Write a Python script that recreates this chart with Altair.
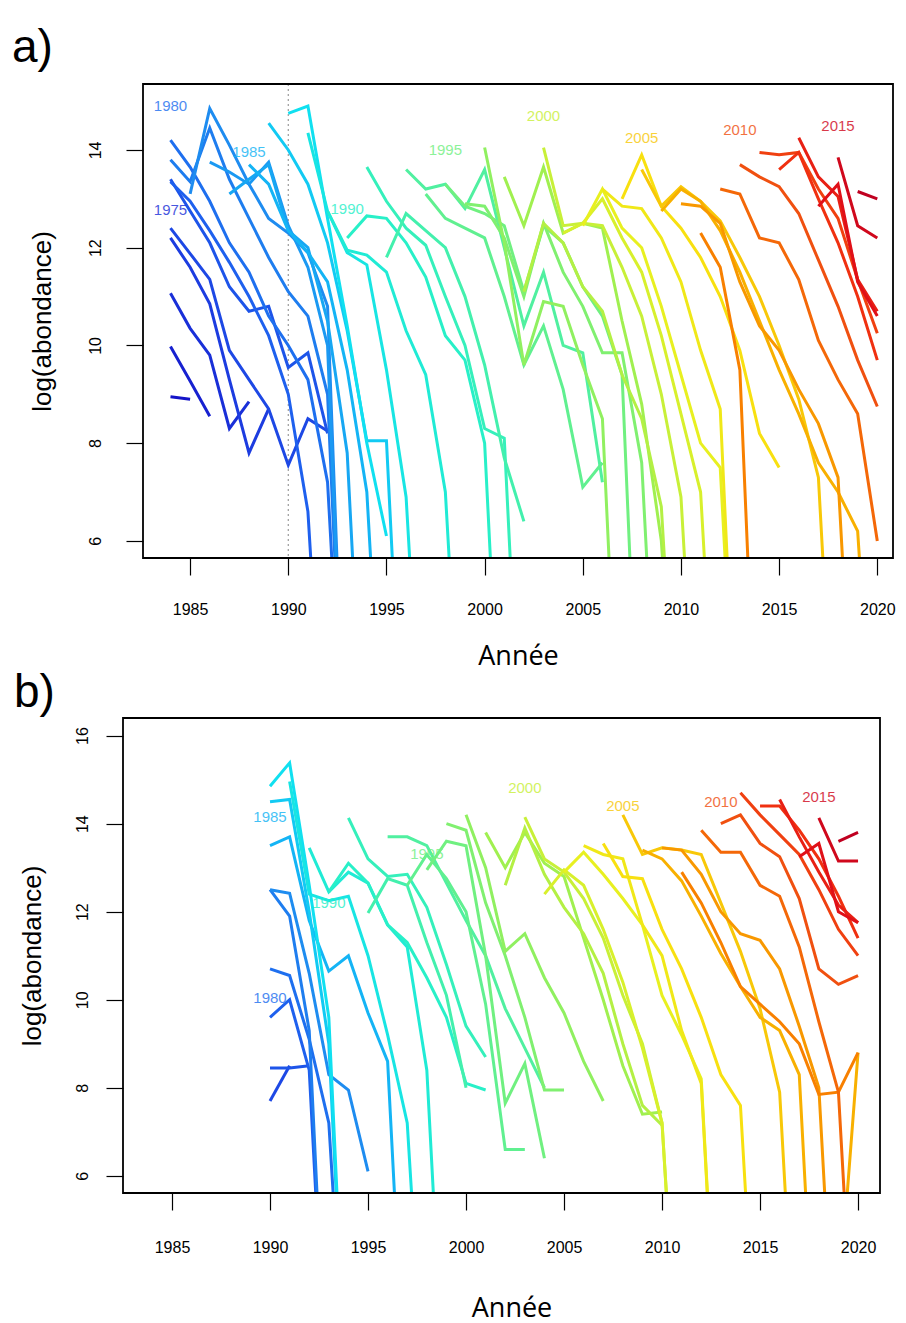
import altair as alt
import pandas as pd

# ---------------- Panel a : cohort catch curves ----------------
A_COHORT = [1973, 1974, 1975, 1976, 1977, 1978, 1979, 1980, 1981, 1982, 1983, 1984,
            1985, 1986, 1987, 1988, 1989, 1990, 1991, 1992, 1993, 1994, 1995, 1996,
            1997, 1998, 1999, 2000, 2001, 2002, 2003, 2004, 2005, 2006, 2007, 2008,
            2009, 2010, 2011, 2012, 2013, 2014, 2015, 2016]
A_START = [1984, 1984, 1984, 1984, 1984, 1984, 1984, 1984, 1984, 1985, 1986, 1987,
           1988, 1989, 1990, 1991, 1992, 1993, 1994, 1995, 1996, 1997, 1998, 1999,
           2000, 2001, 2002, 2003, 2004, 2005, 2006, 2007, 2008, 2009, 2010, 2011,
           2012, 2013, 2014, 2015, 2016, 2017, 2018, 2019]
A_VALUES = [
    [8.95, 8.9],
    [9.98, 9.27, 8.55],
    [11.07, 10.35, 9.8, 8.3, 8.85],
    [12.2, 11.6, 10.85, 9.3, 7.8, 8.7],
    [12.4, 11.88, 11.35, 9.9, 9.3, 8.7, 7.55, 8.5, 8.25],
    [13.4, 12.75, 12.1, 11.2, 10.7, 10.8, 9.55, 9.85, 8.2],
    [13.35, 12.95, 12.35, 11.7, 11.0, 10.2, 9.0, 6.6, 0.0],
    [14.2, 13.65, 12.95, 12.1, 11.5, 10.6, 10.0, 9.3, 7.2, 0.0],
    [13.8, 13.35, 14.45, 13.4, 12.6, 11.8, 11.1, 10.6, 9.0, 0.0],
    [13.1, 14.85, 14.1, 13.3, 12.6, 12.3, 11.9, 10.8, 0.0],
    [13.75, 13.55, 13.3, 13.75, 12.45, 11.6, 10.0, 0.0],
    [13.1, 13.4, 13.7, 12.35, 12.0, 10.5, 7.8, 0.0],
    [13.7, 13.3, 12.35, 11.9, 11.3, 9.5, 7.0, 0.0],
    [14.55, 14.0, 13.3, 12.1, 10.3, 8.05, 8.05, 0.0],
    [14.75, 14.9, 12.6, 10.4, 8.0, 6.1],
    [14.35, 12.75, 11.9, 11.65, 9.5, 6.9, 0.0],
    [12.75, 11.95, 11.85, 11.5, 10.3, 9.4, 7.0, 0.0],
    [12.2, 12.65, 12.6, 12.1, 11.4, 10.2, 9.7, 8.0, 0.0],
    [13.65, 12.95, 12.4, 12.05, 11.0, 10.0, 8.3, 8.1, 0.0],
    [11.8, 12.7, 12.35, 12.0, 11.0, 9.6, 7.7, 6.4],
    [13.6, 13.2, 13.3, 12.8, 13.6, 12.0, 10.4, 11.5, 10.0, 9.85, 7.2],
    [13.1, 12.6, 12.4, 12.2, 11.0, 9.6, 10.4, 9.1, 7.1, 7.6],
    [13.3, 12.85, 12.7, 12.45, 11.1, 12.45, 12.1, 11.2, 10.6, 9.4, 0.0],
    [12.9, 12.85, 12.2, 11.0, 12.5, 11.5, 10.8, 9.85, 9.85, 7.6, 0.0],
    [14.05, 12.1, 9.6, 10.9, 10.8, 9.6, 8.5, 0.0],
    [13.45, 12.45, 13.65, 12.3, 12.5, 12.4, 10.5, 8.8, 6.0, 0.0],
    [11.1, 12.5, 12.1, 11.2, 10.7, 9.4, 8.5, 6.7, 0.0],
    [14.05, 12.45, 12.5, 12.45, 11.6, 10.6, 9.0, 6.9, 0.0],
    [12.3, 12.5, 13.0, 12.2, 11.5, 10.2, 8.6, 7.0, 0.0],
    [12.45, 13.2, 12.4, 12.0, 10.8, 9.4, 8.0, 7.5, 0.0],
    [13.2, 12.85, 12.8, 12.2, 11.3, 9.9, 8.7, 0.0],
    [13.0, 13.9, 12.85, 12.4, 11.8, 11.0, 9.9, 8.2, 7.5],
    [13.6, 12.85, 13.25, 12.95, 12.55, 11.8, 11.0, 10.0, 8.9, 7.3, 0.0],
    [12.75, 13.2, 12.95, 12.35, 11.5, 10.5, 9.5, 8.6, 7.6, 7.0, 6.2, 0.0],
    [12.9, 12.85, 12.5, 11.3, 10.4, 9.9, 9.1, 8.4, 7.3, 0.0],
    [12.3, 11.6, 9.5, 0.0],
    [13.2, 13.1, 12.2, 12.1, 11.35, 10.1, 9.3, 8.6, 6.0],
    [13.7, 13.45, 13.25, 12.7, 11.75, 10.8, 9.7, 8.75],
    [13.95, 13.9, 13.95, 13.2, 12.6, 11.35, 10.25],
    [13.6, 13.95, 13.0, 12.1, 11.0, 9.7],
    [14.25, 13.45, 13.05, 11.35, 10.7],
    [12.85, 13.3, 11.3, 10.6],
    [13.85, 12.45, 12.2],
    [13.15, 13.0],
]
A_LABEL_TEXT = ["1975", "1980", "1985", "1990", "1995", "2000", "2005", "2010", "2015"]
A_LABEL_COHORT = [1975, 1980, 1985, 1990, 1995, 2000, 2005, 2010, 2015]
A_LABEL_X = [1984.0, 1984.0, 1988.0, 1993.0, 1998.0, 2003.0, 2008.0, 2013.0, 2018.0]
A_LABEL_Y = [12.77, 14.9, 13.96, 12.8, 14.0, 14.7, 14.25, 14.4, 14.5]

# ---------------- Panel b ----------------
B_COHORT = [1977, 1978, 1979, 1980, 1981, 1982, 1985, 1986, 1987, 1988, 1989, 1990,
            1991, 1992, 1993, 1994, 1995, 1996, 1997, 1998, 1999, 2000, 2001, 2002,
            2003, 2004, 2005, 2006, 2007, 2008, 2009, 2010, 2011, 2012, 2013, 2014,
            2015, 2016]
B_START = [1990, 1990, 1990, 1990, 1990, 1990, 1990, 1990, 1990, 1991, 1992, 1993,
           1994, 1995, 1996, 1997, 1998, 1999, 2000, 2001, 2002, 2003, 2004, 2005,
           2006, 2007, 2008, 2009, 2010, 2011, 2012, 2013, 2014, 2015, 2016, 2017,
           2018, 2019]
B_VALUES = [
    [7.7, 8.5],
    [8.45, 8.45, 8.5],
    [9.6, 10.0, 8.4, 0.0],
    [10.7, 10.55, 9.1, 7.2, 0.0],
    [12.5, 11.9, 9.3, 0.0],
    [12.5, 12.42, 10.6, 8.3, 7.95, 6.1],
    [13.5, 13.7, 11.8, 10.65, 11.0, 9.7, 8.6, 0.0],
    [14.5, 14.55, 12.0, 9.0, 0.0],
    [14.85, 15.38, 12.6, 9.6, 0.0],
    [14.96, 12.4, 12.25, 12.35, 11.0, 9.2, 7.2, 0.0],
    [13.45, 12.45, 12.9, 12.65, 11.7, 11.2, 8.4, 0.0],
    [12.45, 13.1, 12.65, 11.7, 11.3, 10.5, 9.6, 8.1, 7.95],
    [14.13, 13.2, 12.8, 12.85, 12.1, 10.8, 9.4, 8.7],
    [11.97, 12.75, 12.6, 11.3, 10.1, 8.0],
    [13.7, 13.7, 13.5, 12.65, 11.8, 11.0, 9.8, 8.9, 8.0],
    [12.6, 13.3, 12.75, 12.0, 9.9, 6.6, 6.6],
    [12.95, 13.6, 13.5, 11.0, 7.65, 8.55, 6.4],
    [14.0, 13.85, 12.2, 11.0, 9.6, 7.95, 7.95],
    [14.2, 13.0, 11.1, 11.5, 10.5, 9.7, 8.6, 7.7],
    [13.8, 13.0, 13.8, 13.1, 12.8, 11.4, 10.0, 8.5, 7.4, 7.45],
    [12.6, 13.9, 12.85, 12.1, 11.5, 10.6, 9.0, 7.6, 7.15],
    [14.15, 13.2, 12.9, 12.3, 11.4, 10.1, 9.0, 7.2, 0.0],
    [12.4, 12.95, 12.6, 11.6, 10.4, 8.9, 7.2, 0.0],
    [12.9, 13.35, 12.85, 12.3, 11.7, 10.1, 9.2, 8.2, 0.0],
    [13.5, 13.3, 13.2, 11.7, 11.0, 9.3, 8.1, 0.0],
    [13.55, 12.8, 12.75, 11.6, 10.7, 9.6, 8.3, 7.6, 0.0],
    [14.2, 13.3, 13.45, 13.4, 13.3, 12.2, 11.1, 9.8, 7.9, 0.0],
    [13.4, 13.2, 12.7, 11.9, 11.05, 10.3, 9.6, 9.3, 8.3, 0.0, 3.0, 8.8],
    [13.45, 13.4, 12.85, 12.0, 11.5, 11.35, 10.7, 9.4, 8.0, 0.0],
    [12.9, 12.2, 11.3, 10.3, 9.9, 9.5, 9.0, 7.85, 7.9, 8.8],
    [13.85, 13.35, 13.35, 12.6, 12.35, 11.2, 9.5, 7.9, 0.0],
    [14.0, 14.2, 13.55, 13.25, 12.3, 10.7, 10.35, 10.55],
    [14.7, 14.2, 13.75, 13.3, 12.5, 11.6, 11.0],
    [14.4, 14.4, 13.85, 13.2, 12.35, 11.4],
    [14.55, 13.7, 12.9, 12.15, 11.75],
    [13.25, 13.55, 12.0, 11.75],
    [14.13, 13.15, 13.15],
    [13.6, 13.8],
]
B_LABEL_TEXT = ["1980", "1985", "1990", "1995", "2000", "2005", "2010", "2015"]
B_LABEL_COHORT = [1980, 1985, 1990, 1995, 2000, 2005, 2010, 2015]
B_LABEL_X = [1990.0, 1990.0, 1993.0, 1998.0, 2003.0, 2008.0, 2013.0, 2018.0]
B_LABEL_Y = [10.05, 14.15, 12.2, 13.3, 14.8, 14.4, 14.5, 14.6]

TICK_YEARS = [1985, 1990, 1995, 2000, 2005, 2010, 2015, 2020]
A_YTICKS = [6, 8, 10, 12, 14]
B_YTICKS = [6, 8, 10, 12, 14, 16]

COLOR_STOPS = [1971, 1973, 1976, 1979, 1982, 1985, 1987, 1990, 1993, 1995, 1998,
               2000, 2002, 2004, 2006, 2008, 2010, 2012, 2014, 2016, 2017]
COLOR_RANGE = ["#10109a", "#1414c8", "#1c3ce0", "#1e60ee", "#1e8cf0", "#14b4f5",
               "#10e0f0", "#28f0c8", "#50f0a0", "#70f080", "#a0f050", "#c8f038",
               "#e8f020", "#f8e010", "#f8b000", "#f88000", "#f05010", "#f03010",
               "#e01018", "#c00020", "#a00020"]


def long_table(cohorts, starts, values):
    rows = []
    for c, s, vals in zip(cohorts, starts, values):
        for i, v in enumerate(vals):
            rows.append({"cohort": c, "year": s + i, "value": v})
    return pd.DataFrame(rows)


color_scale = alt.Scale(domain=COLOR_STOPS, range=COLOR_RANGE, interpolate="rgb")


def make_panel(cohorts, starts, values, lab_text, lab_cohort, lab_x, lab_y,
               xdom, ydom, yticks, width, height, frame_left, yoff,
               ylab_pad, ytitle_pad, xlab_pad, xtitle_pad,
               letter, letter_x, letter_y, dotted):
    df = long_table(cohorts, starts, values)
    labels = pd.DataFrame({"cohort": lab_cohort, "year": lab_x, "value": lab_y,
                           "label": lab_text})
    xenc = alt.X("year:Q", scale=alt.Scale(domain=xdom, nice=False, zero=False),
                 axis=alt.Axis(values=TICK_YEARS, format="d", title="Année",
                               grid=False, domain=False,
                               labelFont="Liberation Sans", labelFontSize=16,
                               labelColor="black", tickColor="black", tickWidth=1.2,
                               titleFont="Open Sans", titleFontSize=27,
                               titleColor="black",
                               titleFontWeight="normal", titlePadding=xtitle_pad,
                               labelPadding=xlab_pad, tickSize=17))
    yenc = alt.Y("value:Q", scale=alt.Scale(domain=ydom, nice=False, zero=False),
                 axis=alt.Axis(values=yticks, title="log(abondance)", offset=yoff,
                               grid=False, domain=False,
                               labelFont="Liberation Sans", labelFontSize=16,
                               labelColor="black", tickColor="black", tickWidth=1.2,
                               titleFont="Liberation Sans", titleFontSize=26,
                               titleColor="black",
                               titleFontWeight="normal", titlePadding=ytitle_pad,
                               labelAngle=270, labelAlign="center",
                               labelBaseline="bottom", labelPadding=ylab_pad,
                               tickSize=17))
    lines = alt.Chart(df).mark_line(strokeWidth=3, clip=True).encode(
        x=xenc, y=yenc,
        color=alt.Color("cohort:Q", scale=color_scale, legend=None),
        detail="cohort:N", order="year:Q")
    texts = alt.Chart(labels).mark_text(font="Liberation Sans", fontSize=15,
                                        opacity=0.8).encode(
        x="year:Q", y="value:Q", text="label:N",
        color=alt.Color("cohort:Q", scale=color_scale, legend=None))
    frame = alt.Chart(pd.DataFrame({"k": [0]})).mark_rect(
        fillOpacity=0, stroke="black", strokeWidth=1.8).encode(
        x=alt.value(frame_left), x2=alt.value(width), y=alt.value(0),
        y2=alt.value(height))
    tag = alt.Chart(pd.DataFrame({"t": [letter]})).mark_text(
        font="Liberation Sans", fontSize=46, align="left", baseline="middle",
        color="black").encode(text="t:N", x=alt.value(letter_x), y=alt.value(letter_y))
    layers = [lines, texts]
    if dotted:
        rule = alt.Chart(pd.DataFrame({"year": [1990]})).mark_rule(
            color="#9a9a9a", strokeDash=[2, 3], strokeWidth=1.2).encode(x="year:Q")
        layers = [rule] + layers
    layers = layers + [frame, tag]
    return alt.layer(*layers).properties(width=width, height=height)


panel_a = make_panel(A_COHORT, A_START, A_VALUES, A_LABEL_TEXT, A_LABEL_COHORT,
                     A_LABEL_X, A_LABEL_Y, [1982.6, 2020.8], [5.65, 15.35],
                     A_YTICKS, 750, 474, 0, 0, 23, 32, 26, 26,
                     "a)", -131, -36, True)
panel_b = make_panel(B_COHORT, B_START, B_VALUES, B_LABEL_TEXT, B_LABEL_COHORT,
                     B_LABEL_X, B_LABEL_Y, [1983.52, 2021.12], [5.61, 16.4],
                     B_YTICKS, 737, 475, -20, 20, 16, 29, 29, 40,
                     "b)", -129, -25, False)

chart = alt.vconcat(panel_a, panel_b, spacing=1).properties(
    padding={"left": 12, "top": 25, "right": 5, "bottom": 4},
    background="white"
).configure_view(strokeWidth=0)

chart.save("out.html", embed_options={"renderer": "svg", "actions": False})
